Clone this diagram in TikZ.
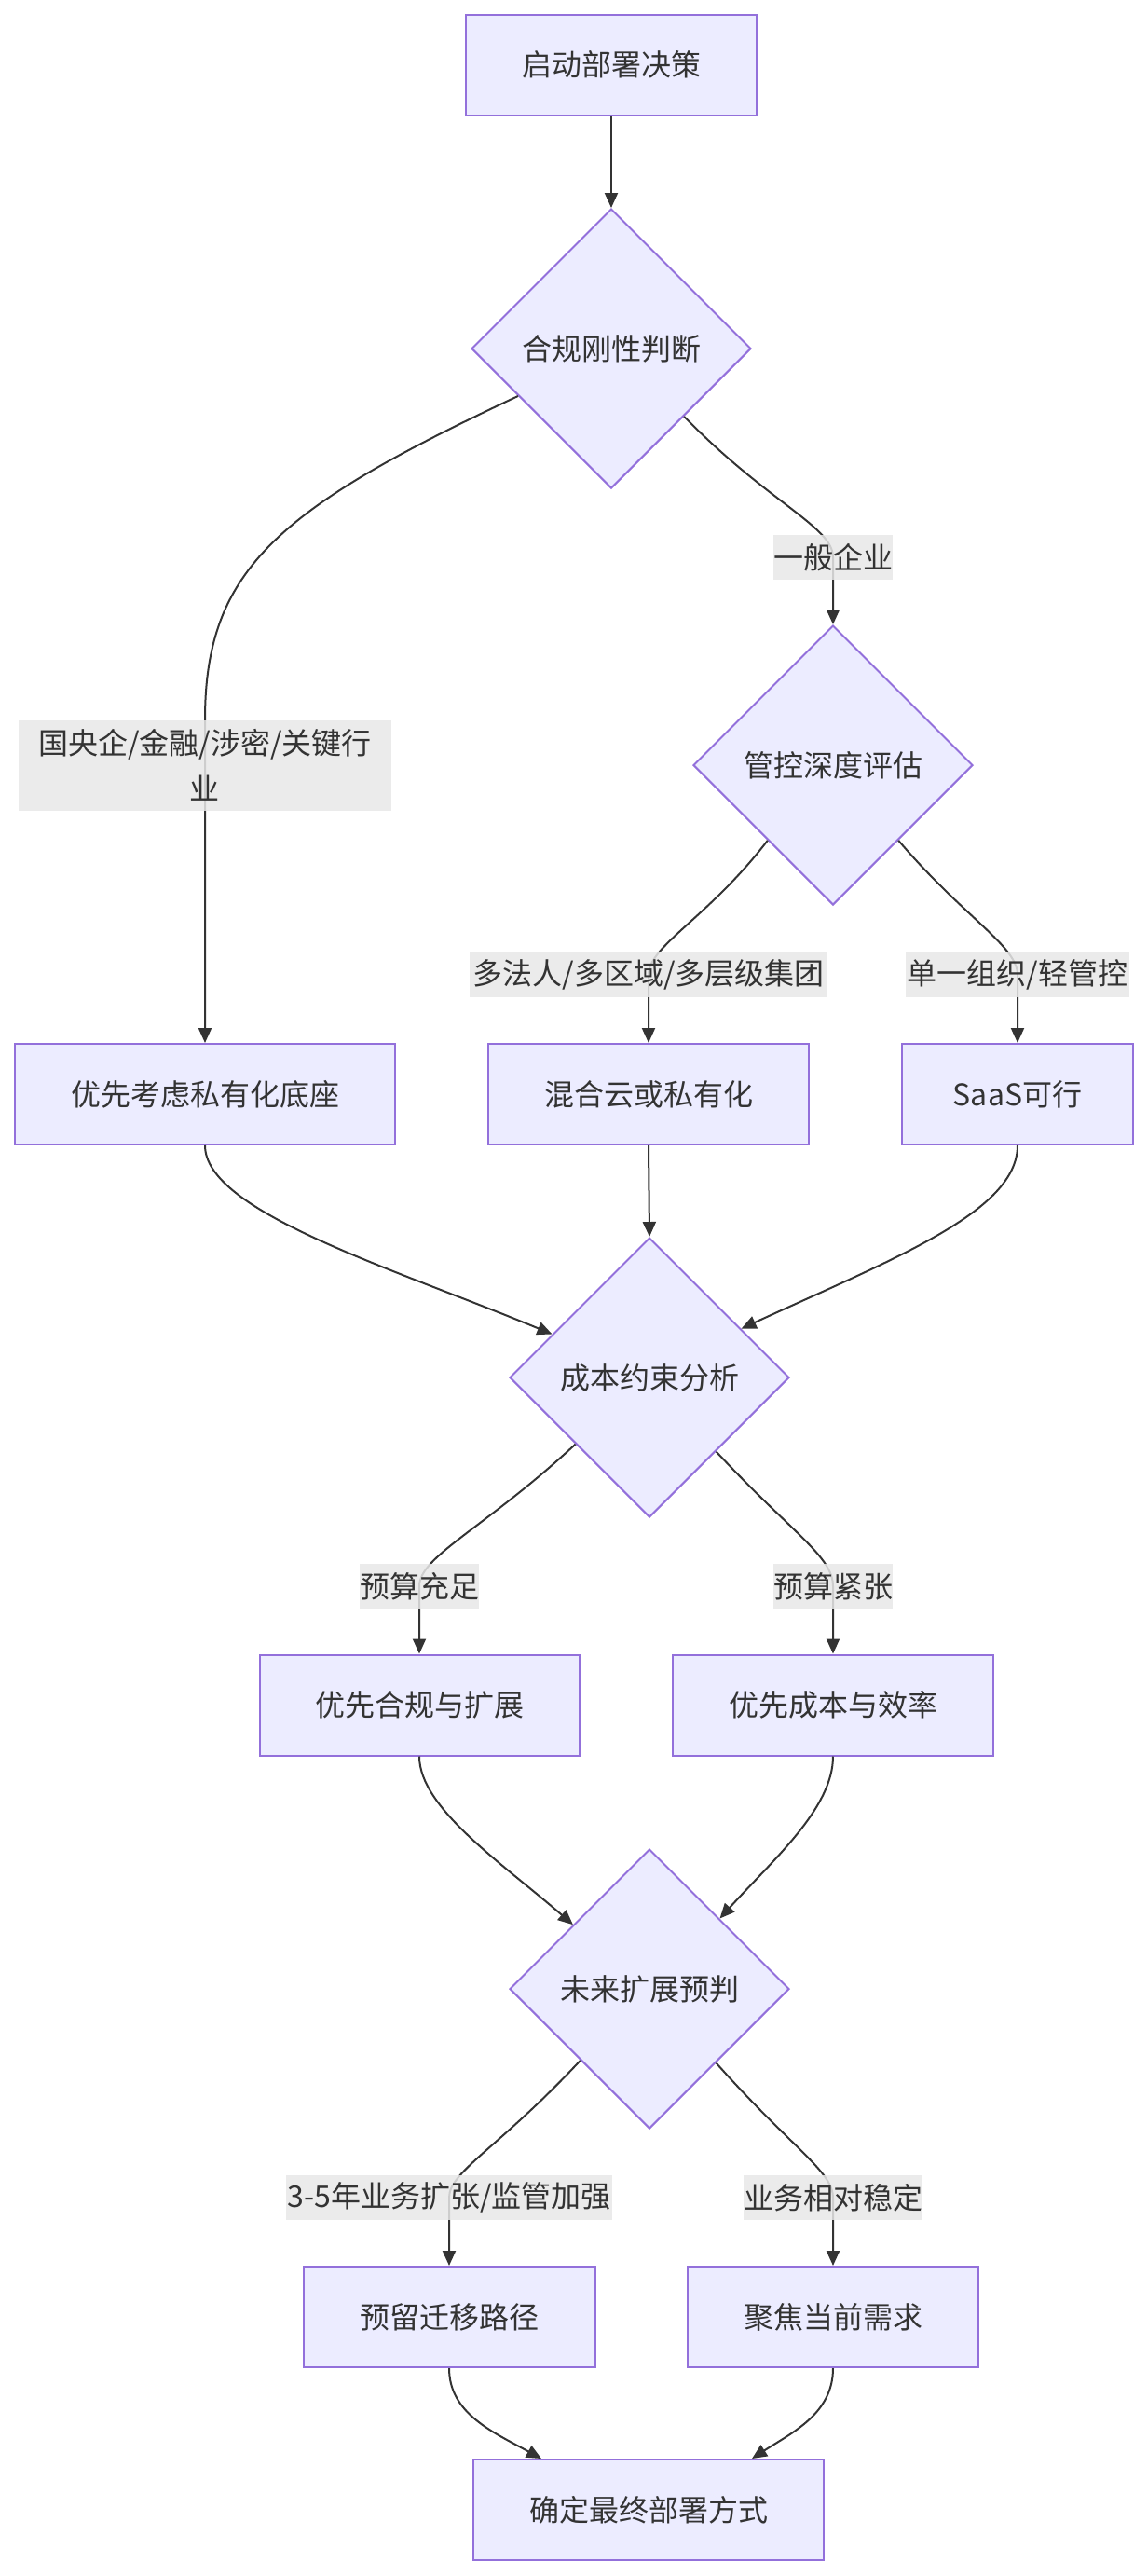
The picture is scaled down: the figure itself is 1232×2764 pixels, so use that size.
\documentclass[tikz,border=0pt]{standalone}
\usepackage{fontspec}
\setmainfont{Noto Sans CJK SC}
\usetikzlibrary{shapes.geometric,arrows.meta,calc}
\definecolor{nodefill}{HTML}{ECECFF}
\definecolor{nodeline}{HTML}{9370DB}
\definecolor{edgecol}{HTML}{333333}
\definecolor{labfill}{HTML}{E8E8E8}
\definecolor{txt}{HTML}{333333}
\pgfdeclarelayer{edgelayer}
\pgfdeclarelayer{labellayer}
\pgfsetlayers{main,edgelayer,labellayer}
\begin{document}
\begin{tikzpicture}[x=0.5pt,y=-0.5pt,
 box/.style={rectangle,draw=nodeline,fill=nodefill,line width=1pt,minimum height=54pt,inner sep=0pt,text=txt,font=\fontsize{16pt}{20pt}\selectfont},
 dec/.style={diamond,draw=nodeline,fill=nodefill,line width=1pt,minimum width=150pt,minimum height=150pt,inner sep=0pt,aspect=1,text=txt,font=\fontsize{16pt}{20pt}\selectfont},
 lab/.style={rectangle,fill=labfill,fill opacity=0.85,text opacity=1,inner sep=0pt,minimum height=24pt,text=txt,font=\fontsize{16pt}{20pt}\selectfont},
 conn/.style={draw=edgecol,line width=1pt,-{Triangle[length=8pt,width=7pt]}},
]
\useasboundingbox[fill=white] (0,0) rectangle (1232,2764);

% shape nodes
\node[box,minimum width=156pt] (start) at (656,69.5) {启动部署决策};
\node[dec] (d1) at (656,374) {合规刚性判断};
\node[dec] (d2) at (894,821) {管控深度评估};
\node[box,minimum width=204pt] (b1) at (220,1174) {优先考虑私有化底座};
\node[box,minimum width=172pt] (b2) at (696,1174) {混合云或私有化};
\node[box,minimum width=124pt] (b3) at (1092,1174) {SaaS可行};
\node[dec] (d3) at (697,1478) {成本约束分析};
\node[box,minimum width=171.5pt] (b4) at (450,1829.5) {优先合规与扩展};
\node[box,minimum width=172pt] (b5) at (894,1829.5) {优先成本与效率};
\node[dec] (d4) at (697,2134) {未来扩展预判};
\node[box,minimum width=156.5pt] (b6) at (482,2486) {预留迁移路径};
\node[box,minimum width=156pt] (b7) at (894,2486) {聚焦当前需求};
\node[box,minimum width=188pt] (b8) at (696,2693) {确定最终部署方式};

% labels
\begin{pgfonlayer}{labellayer}
\node[lab,minimum width=200pt,minimum height=48.5pt,align=center,font=\fontsize{16pt}{24.5pt}\selectfont] (l1) at (220,821) {国央企/金融/涉密/关键行\\业};
\node[lab,minimum width=64pt] (l2) at (894,598) {一般企业};
\node[lab,minimum width=192pt] (l3) at (696,1046) {多法人/多区域/多层级集团};
\node[lab,minimum width=120pt] (l4) at (1092,1046) {单一组织/轻管控};
\node[lab,minimum width=64pt] (l5) at (450,1702) {预算充足};
\node[lab,minimum width=64pt] (l6) at (894,1702) {预算紧张};
\node[lab,minimum width=175pt] (l7) at (482,2358) {3-5年业务扩张/监管加强};
\node[lab,minimum width=96pt] (l8) at (894,2358) {业务相对稳定};
\end{pgfonlayer}

% connectors
\begin{pgfonlayer}{edgelayer}
\draw[conn] (start.south) -- (d1.north);
\draw[conn] (d1.207) .. controls (300,545) and (220,610) .. (l1.north) -- (b1.north);
\draw[conn] (d1.-43) .. controls (825,540) and (894,565) .. (l2.center) -- (d2.north);
\draw[conn] (d2.-131.7) .. controls (760,985) and (696,1015) .. (l3.center) -- (b2.north);
\draw[conn] (d2.-49) .. controls (1035,985) and (1092,1015) .. (l4.center) -- (b3.north);
\draw[conn] (b1.south) .. controls (220,1300) and (420,1360) .. (d3.156.5);
\draw[conn] (b2.south) -- (d3.north);
\draw[conn] (b3.south) .. controls (1092,1300) and (960,1350) .. (d3.28.8);
\draw[conn] (d3.222.7) .. controls (520,1640) and (450,1670) .. (l5.center) -- (b4.north);
\draw[conn] (d3.-48.8) .. controls (850,1645) and (894,1670) .. (l6.center) -- (b5.north);
\draw[conn] (b4.south) .. controls (450,1940) and (540,2000) .. (d4.140.6);
\draw[conn] (b5.south) .. controls (894,1940) and (830,1995) .. (d4.45);
\draw[conn] (d4.226) .. controls (535,2305) and (482,2330) .. (l7.center) -- (b6.north);
\draw[conn] (d4.-48.4) .. controls (850,2305) and (894,2330) .. (l8.center) -- (b7.north);
\draw[conn] (b6.south) .. controls (482,2590) and (530,2610) .. ($(b8.north)+(-115,0)$);
\draw[conn] (b7.south) .. controls (894,2590) and (850,2610) .. ($(b8.north)+(111,0)$);
\end{pgfonlayer}
\end{tikzpicture}
\end{document}
